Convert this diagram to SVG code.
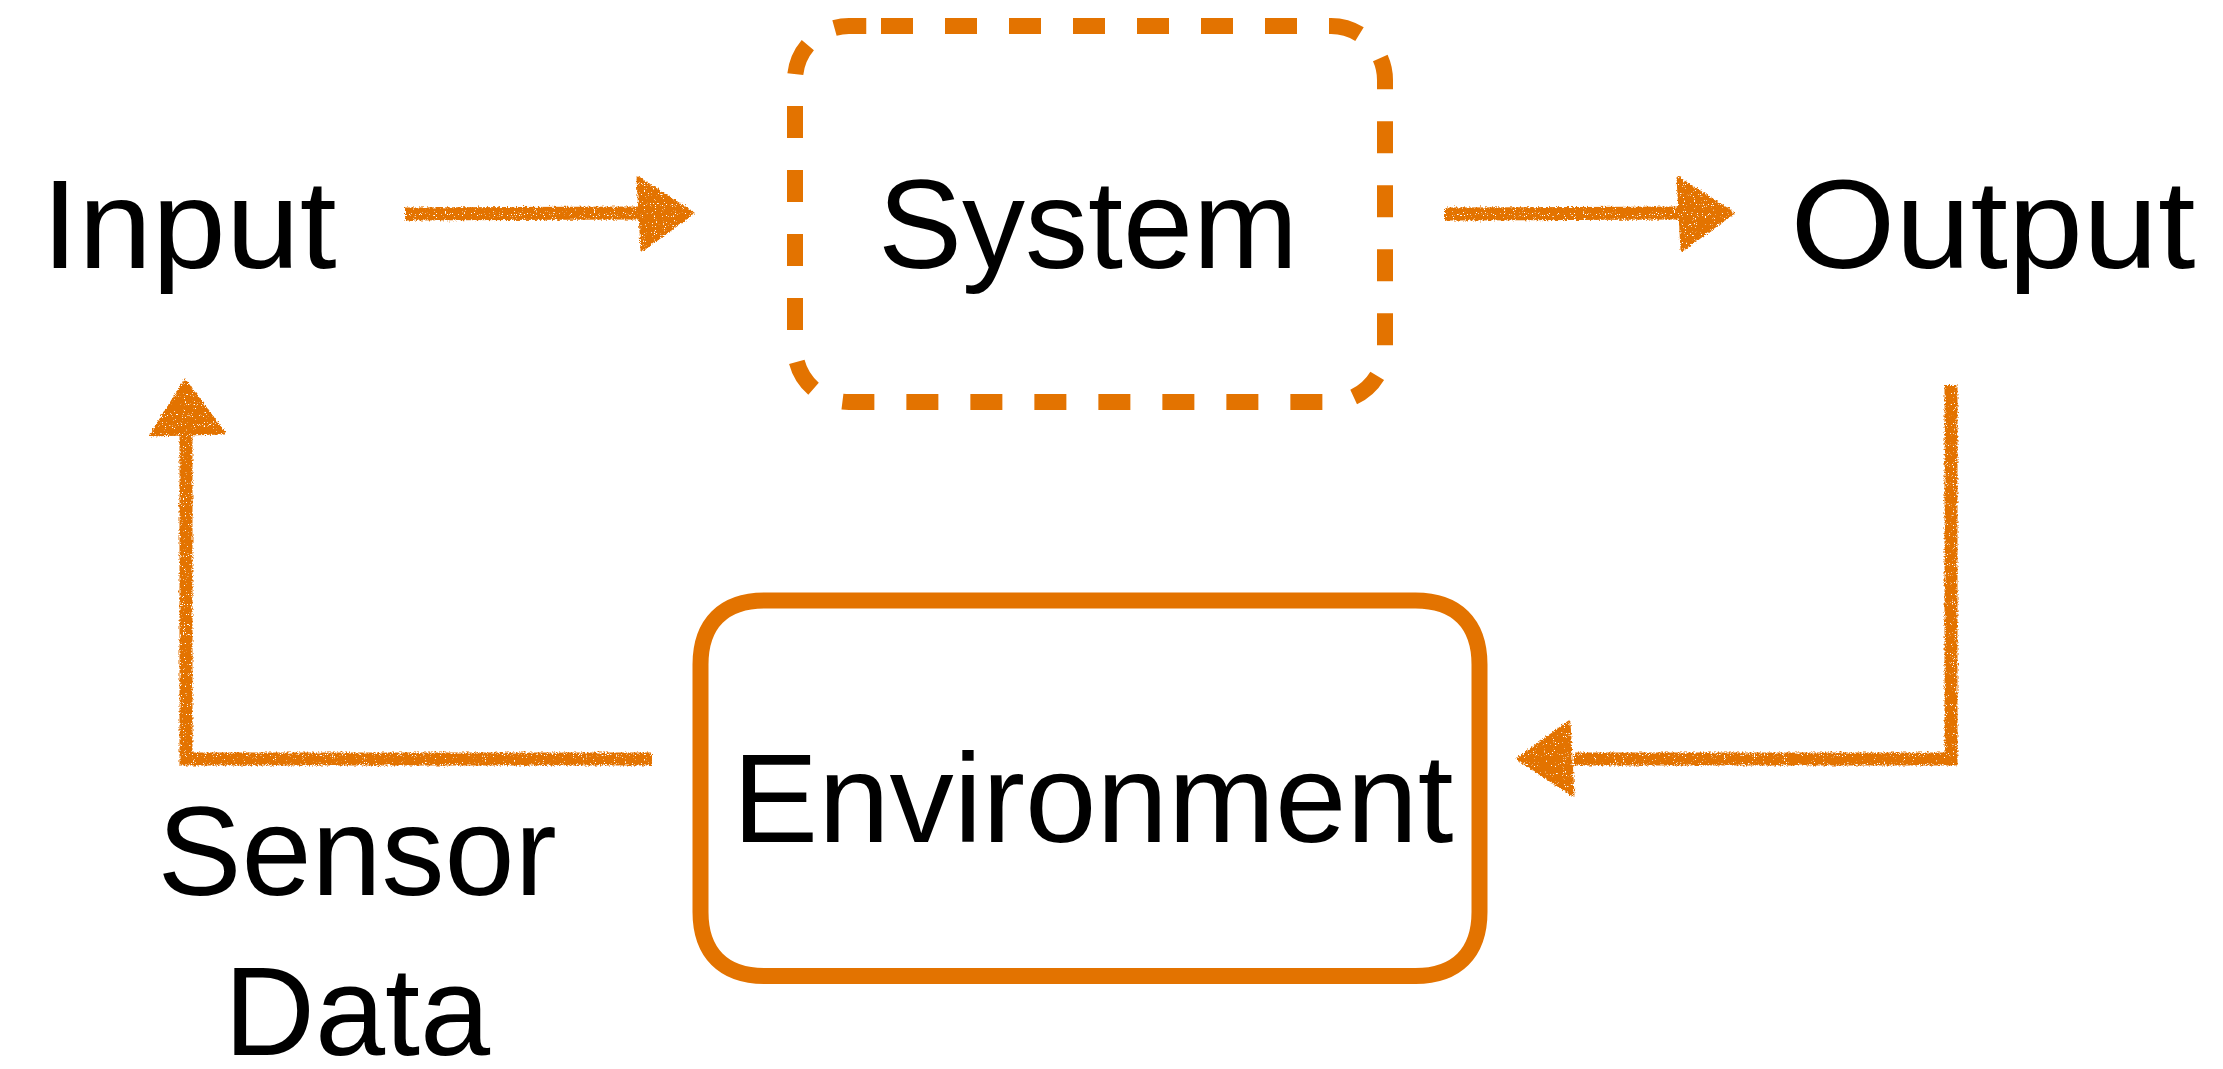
<svg xmlns="http://www.w3.org/2000/svg" width="2223" height="1069" viewBox="0 0 2223 1069">
  <defs>
    <filter id="crayon" filterUnits="userSpaceOnUse" x="0" y="0" width="2223" height="1069">
      <feTurbulence type="fractalNoise" baseFrequency="0.55" numOctaves="2" seed="4" result="noise"/>
      <feDisplacementMap in="SourceGraphic" in2="noise" scale="5" xChannelSelector="R" yChannelSelector="G" result="disp"/>
      <feTurbulence type="fractalNoise" baseFrequency="0.9" numOctaves="1" seed="11" result="grain"/>
      <feColorMatrix in="grain" type="matrix" values="0 0 0 0 0  0 0 0 0 0  0 0 0 0 0  14 0 0 0 -9.2" result="holes"/>
      <feComposite in="disp" in2="holes" operator="out"/>
    </filter>
  </defs>
  <style>
    .label { font-family: "Liberation Sans", Arial, sans-serif; font-size: 126px; fill: #000; text-anchor: middle; }
    .shaft { fill: none; stroke: #E37300; stroke-width: 13; stroke-linejoin: miter; stroke-linecap: butt; }
    .head { fill: #E37300; stroke: #E37300; stroke-width: 3; stroke-linejoin: round; }
    .dashed { fill: none; stroke: #E37300; stroke-width: 16; stroke-dasharray: 32 32; stroke-linecap: butt; }
    .solid { fill: none; stroke: #E37300; stroke-width: 16; }
  </style>
  <rect width="2223" height="1069" fill="#fff"/>

  <g id="connectors" filter="url(#crayon)">
    <g id="edge-input-system">
      <path class="shaft" d="M405,214 L641,213"/>
      <polygon class="head" points="638,178 693,213 642,250"/>
    </g>
    <g id="edge-system-output">
      <path class="shaft" d="M1445,214 L1681,213"/>
      <polygon class="head" points="1678,178 1733,213 1682,250"/>
    </g>
    <g id="edge-output-environment">
      <path class="shaft" d="M1951,385 L1951,759 L1574,759"/>
      <polygon class="head" points="1569,722 1518,759 1573,795"/>
    </g>
    <g id="edge-environment-input">
      <path class="shaft" d="M652,759 L186,759 L186,432"/>
      <polygon class="head" points="185,381 151,435 224,433"/>
    </g>
  </g>

  <g id="node-input">
    <text class="label" x="189" y="268" textLength="295" lengthAdjust="spacingAndGlyphs">Input</text>
  </g>
  <g id="node-system">
    <path class="dashed" d="M881,26 H1331 A54,54 0 0 1 1385,80 V348 A54,54 0 0 1 1331,402 H849 A54,54 0 0 1 795,348 V80 A54,54 0 0 1 849,26 H881"/>
    <text class="label" x="1088" y="268">System</text>
  </g>
  <g id="node-output">
    <text class="label" x="1993" y="268" textLength="405" lengthAdjust="spacingAndGlyphs">Output</text>
  </g>
  <g id="node-environment">
    <path class="solid" d="M764.5,600.5 H1415.5 C1456.5,600.5 1479.5,623.5 1479.5,664.5 V912 C1479.5,953 1456.5,976 1415.5,976 H764.5 C723.5,976 700.5,953 700.5,912 V664.5 C700.5,623.5 723.5,600.5 764.5,600.5 Z"/>
    <text class="label" x="1093" y="842" textLength="721" lengthAdjust="spacingAndGlyphs">Environment</text>
  </g>
  <g id="label-sensor-data">
    <text class="label" x="357" y="895">Sensor</text>
    <text class="label" x="357" y="1055">Data</text>
  </g>
</svg>
